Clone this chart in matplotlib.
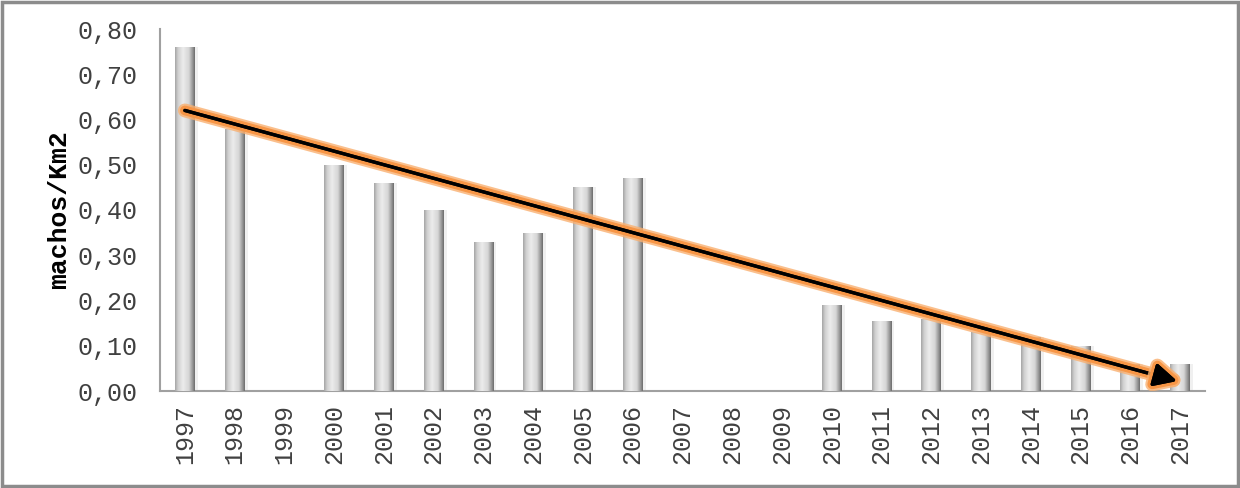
import numpy as np
import matplotlib
matplotlib.use("Agg")
import matplotlib.pyplot as plt
import matplotlib.patheffects as pe
from matplotlib.patches import FancyArrowPatch, Rectangle
from matplotlib.colors import LinearSegmentedColormap

years = [str(y) for y in range(1997, 2018)]
values = [0.76, 0.58, None, 0.50, 0.46, 0.40, 0.33, 0.35, 0.45, 0.47,
          None, None, None, 0.19, 0.155, 0.16, 0.13, 0.12, 0.10, 0.06, 0.06]
yticks = [0.0, 0.1, 0.2, 0.3, 0.4, 0.5, 0.6, 0.7, 0.8]
ytick_labels = ["0,00", "0,10", "0,20", "0,30", "0,40", "0,50", "0,60", "0,70", "0,80"]
trend_start = (0, 0.62)
trend_end = (19.94, 0.022)
ylabel = "machos/Km2"

font = "Liberation Mono"
fig = plt.figure(figsize=(12.4, 4.88), dpi=100)
ax = fig.add_axes([160/1240, 97/488, 1045/1240, 362/488])

x = np.arange(len(years))
w = 0.4
cmap = LinearSegmentedColormap.from_list(
    "cyl", [(0.0, "#a6a6a6"), (0.15, "#d0d0d0"), (0.4, "#ececec"),
            (0.7, "#d6d6d6"), (0.88, "#9a9a9a"), (1.0, "#6e6e6e")])
grad = np.linspace(0, 1, 64).reshape(1, -1)
for xi, v in zip(x, values):
    if v is None:
        continue
    sh = Rectangle((xi - w/2 + 0.06, 0), w, v, facecolor="#000000", alpha=0.06,
                   edgecolor="none", zorder=1)
    ax.add_patch(sh)
    bars = ax.bar([xi], [v], width=w, color="#dcdcdc", edgecolor="none", zorder=2)
    patch = bars[0]
    im = ax.imshow(grad, cmap=cmap, aspect="auto",
                   extent=[xi - w/2, xi + w/2, 0, v], zorder=3)
    im.set_clip_path(patch)

ax.set_xlim(-0.5, len(years) - 0.5)
ax.set_ylim(0, 0.8)
ax.set_yticks(yticks)
ax.set_yticklabels(ytick_labels, fontfamily=font, fontsize=18, color="#404040")
ax.set_xticks(x)
ax.set_xticklabels(years, rotation=90, fontfamily=font, fontsize=18, color="#404040")
ax.tick_params(axis="y", length=0, pad=16)
ax.tick_params(axis="x", length=0, pad=9)
ax.set_ylabel(ylabel, fontfamily=[font], fontweight="bold", fontsize=19,
              color="#000000", labelpad=5)
for s in ["top", "right"]:
    ax.spines[s].set_visible(False)
for s in ["left", "bottom"]:
    ax.spines[s].set_color("#a0a0a0")
    ax.spines[s].set_linewidth(1.5)

arr = FancyArrowPatch(trend_start, trend_end, arrowstyle="-|>,head_length=7,head_width=3.5",
                      mutation_scale=2.0, color="black", linewidth=2.4, zorder=5,
                      shrinkA=0, shrinkB=0,
                      path_effects=[pe.withStroke(linewidth=10, foreground="#f9b070", alpha=0.8),
                                    pe.withStroke(linewidth=7, foreground="#f79646"),
                                    pe.Normal()])
ax.add_patch(arr)

fig.patches.append(Rectangle((0.002, 0.004), 0.996, 0.992, transform=fig.transFigure,
                             facecolor="none", edgecolor="#8c8c8c", linewidth=2.5))
fig.savefig("out.png", dpi=100)
